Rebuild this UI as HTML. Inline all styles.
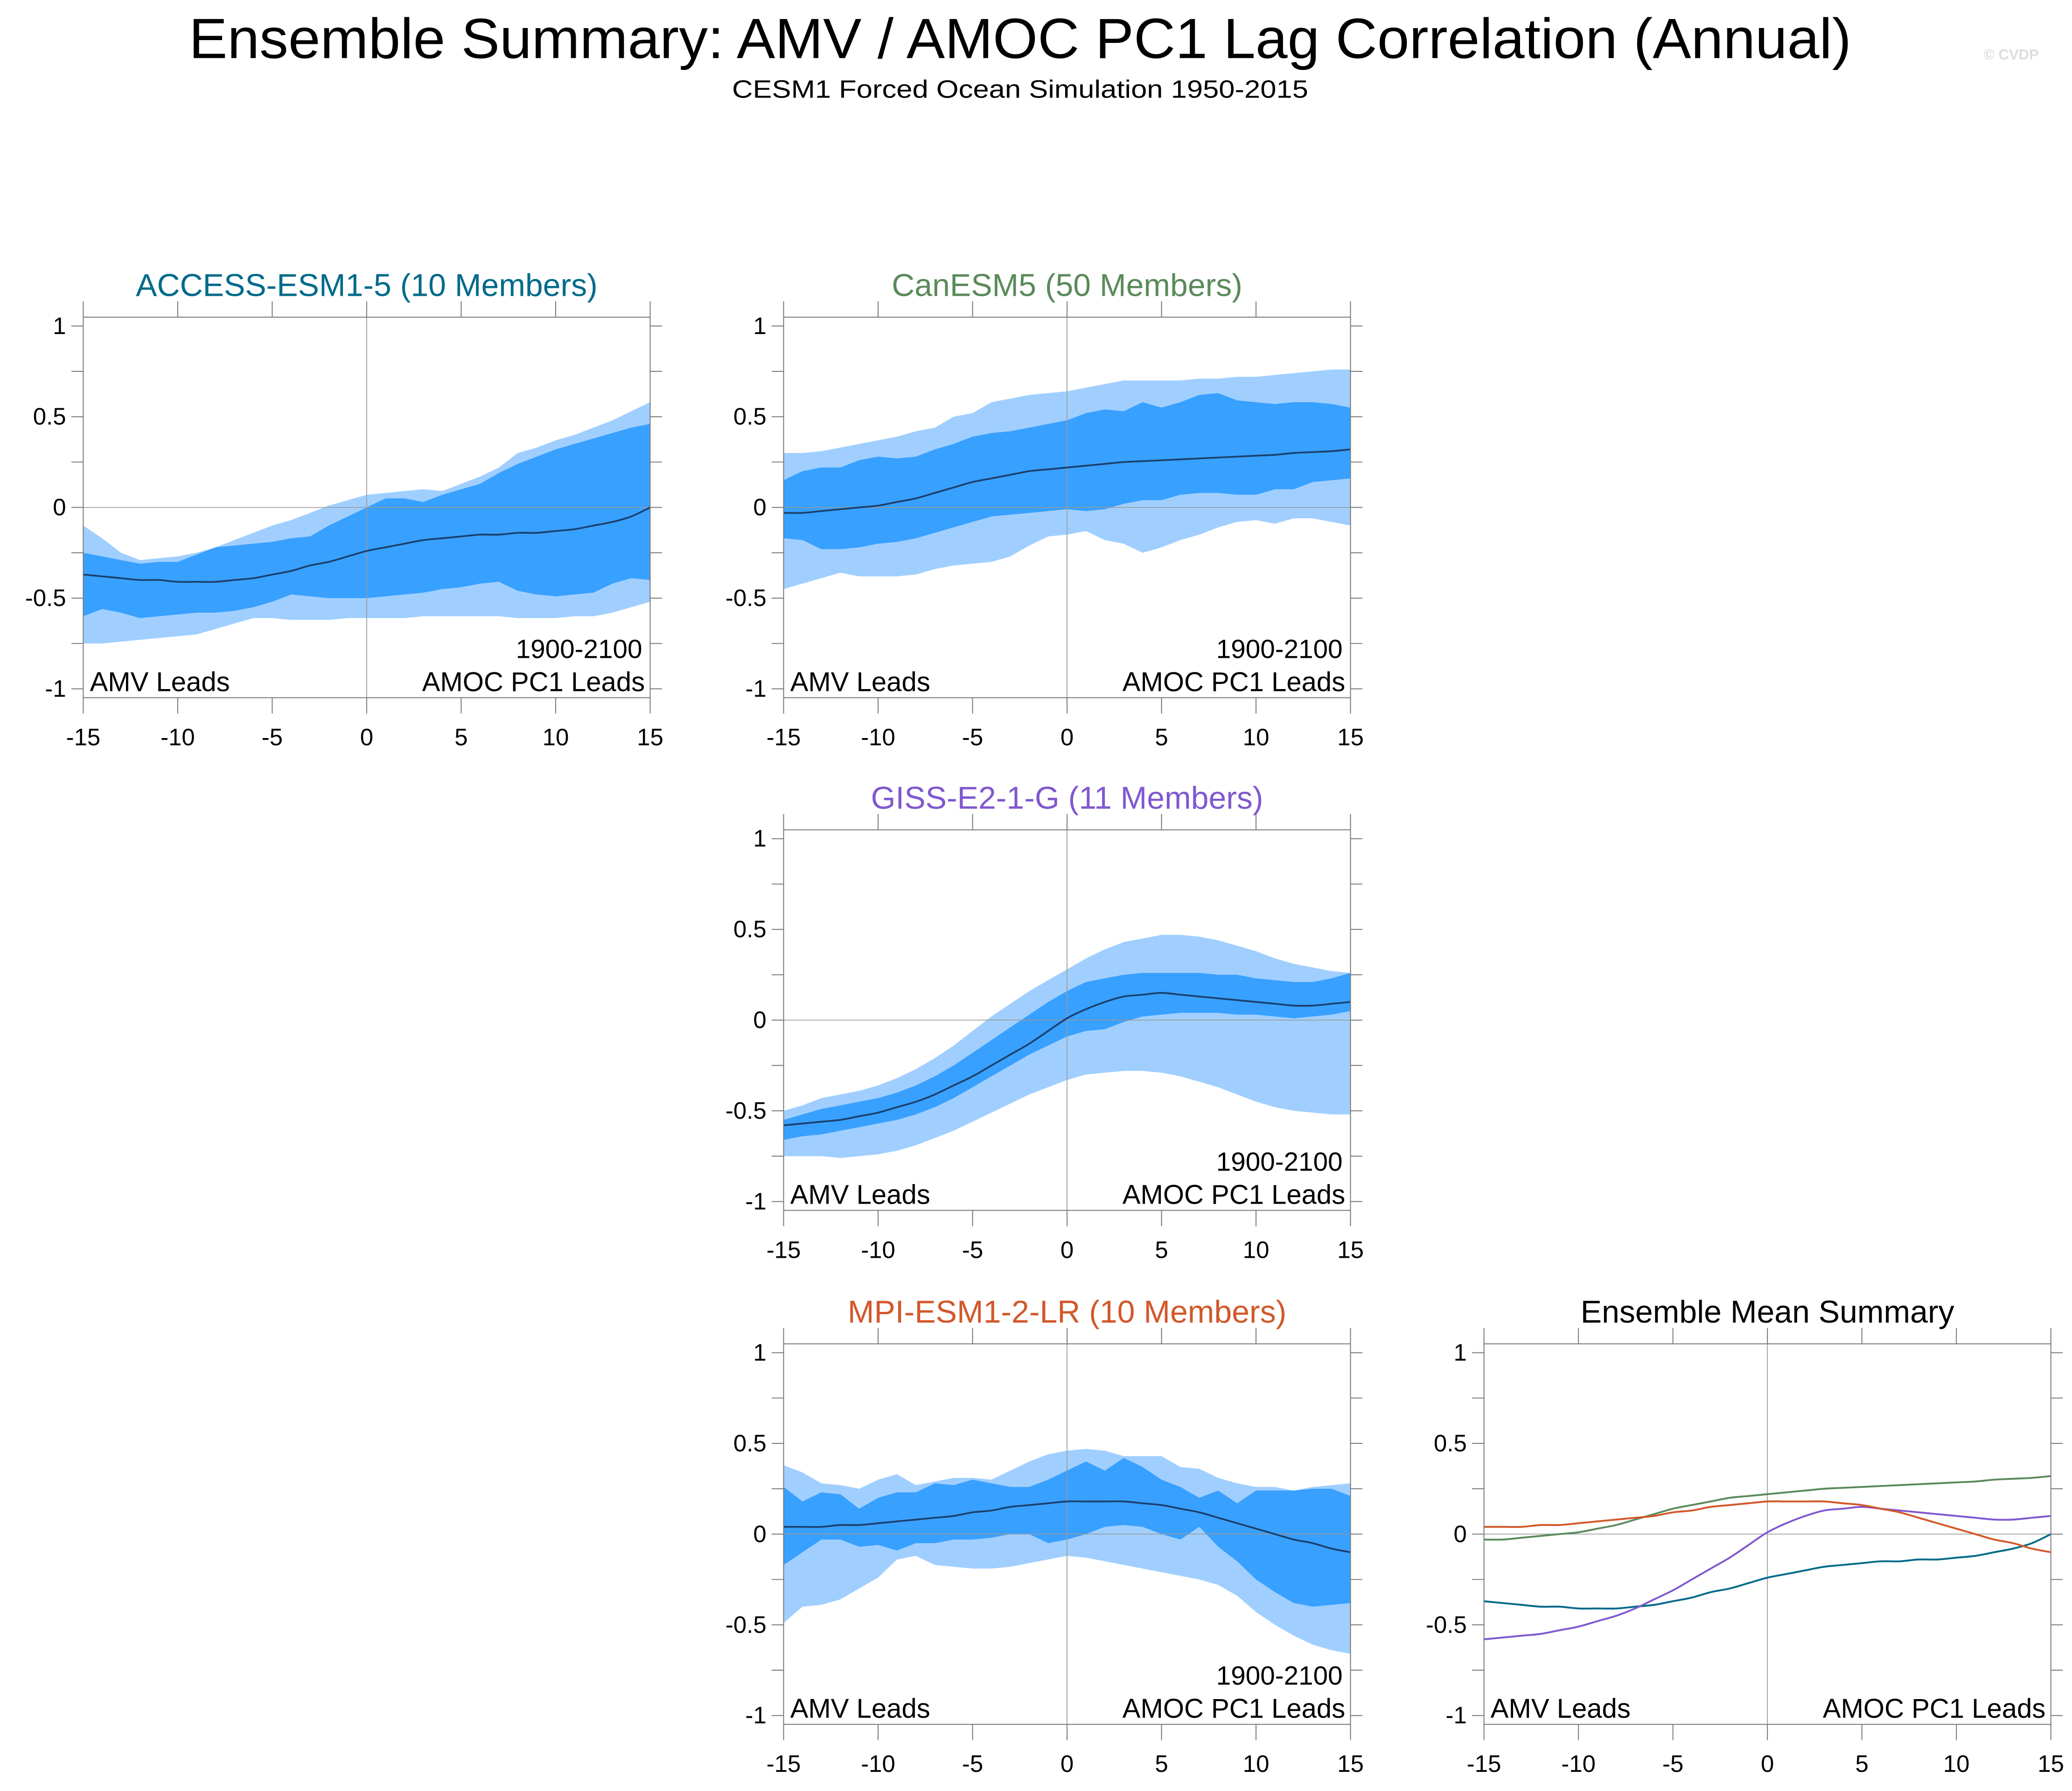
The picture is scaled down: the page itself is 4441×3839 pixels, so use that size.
<!DOCTYPE html>
<html><head><meta charset="utf-8"><style>html,body{margin:0;padding:0;background:#fff}svg{display:block}</style></head>
<body>
<svg id="chart" xmlns="http://www.w3.org/2000/svg" width="4441" height="3839" viewBox="0 0 1568 1355.4" font-family="'Liberation Sans', sans-serif">
<rect width="1568" height="1355.4" fill="#fff"/>
<text x="772" y="44" font-size="43" text-anchor="middle" fill="#000" textLength="1258" lengthAdjust="spacingAndGlyphs">Ensemble Summary: AMV / AMOC PC1 Lag Correlation (Annual)</text>
<text x="772" y="74" font-size="19" text-anchor="middle" fill="#000" textLength="436" lengthAdjust="spacingAndGlyphs">CESM1 Forced Ocean Simulation 1950-2015</text>
<text x="1522" y="45" font-size="11" font-weight="bold" text-anchor="middle" fill="#ddd">© CVDP</text>
</svg>
<script>
const lags = [];
for (let l = -15; l <= 15; l++) lags.push(l);
const xTicks = [-15,-10,-5,0,5,10,15];
const yTicks = [-1,-0.5,0,0.5,1];
const yTickLabels = ['-1','-0.5','0','0.5','1'];

const accessMean = [-0.37,-0.38,-0.39,-0.40,-0.40,-0.41,-0.41,-0.41,-0.40,-0.39,-0.37,-0.35,-0.32,-0.30,-0.27,-0.24,-0.22,-0.20,-0.18,-0.17,-0.16,-0.15,-0.15,-0.14,-0.14,-0.13,-0.12,-0.10,-0.08,-0.05,0.00];
const accessOuterMax = [-0.10,-0.17,-0.25,-0.29,-0.28,-0.27,-0.25,-0.22,-0.18,-0.14,-0.10,-0.07,-0.03,0.01,0.04,0.07,0.08,0.09,0.10,0.09,0.13,0.17,0.22,0.30,0.33,0.37,0.40,0.44,0.48,0.53,0.58];
const accessInnerMax = [-0.25,-0.27,-0.29,-0.31,-0.30,-0.30,-0.26,-0.22,-0.21,-0.20,-0.19,-0.17,-0.16,-0.10,-0.05,0.00,0.05,0.05,0.03,0.07,0.10,0.13,0.19,0.24,0.28,0.32,0.35,0.38,0.41,0.44,0.46];
const accessInnerMin = [-0.60,-0.56,-0.58,-0.61,-0.60,-0.59,-0.58,-0.58,-0.57,-0.55,-0.52,-0.48,-0.49,-0.50,-0.50,-0.50,-0.49,-0.48,-0.47,-0.45,-0.44,-0.42,-0.41,-0.46,-0.48,-0.49,-0.48,-0.47,-0.42,-0.39,-0.40];
const accessOuterMin = [-0.75,-0.75,-0.74,-0.73,-0.72,-0.71,-0.70,-0.67,-0.64,-0.61,-0.61,-0.62,-0.62,-0.62,-0.61,-0.61,-0.61,-0.61,-0.60,-0.60,-0.60,-0.60,-0.60,-0.61,-0.61,-0.61,-0.60,-0.60,-0.58,-0.55,-0.52];

const canMean = [-0.03,-0.03,-0.02,-0.01,0.00,0.01,0.03,0.05,0.08,0.11,0.14,0.16,0.18,0.20,0.21,0.22,0.23,0.24,0.25,0.255,0.26,0.265,0.27,0.275,0.28,0.285,0.29,0.30,0.305,0.31,0.32];
const canOuterMax = [0.30,0.30,0.31,0.33,0.35,0.37,0.39,0.42,0.44,0.50,0.52,0.58,0.60,0.62,0.63,0.64,0.66,0.68,0.70,0.70,0.70,0.70,0.71,0.71,0.72,0.72,0.73,0.74,0.75,0.76,0.76];
const canInnerMax = [0.15,0.20,0.22,0.22,0.26,0.28,0.27,0.28,0.32,0.35,0.39,0.41,0.42,0.44,0.46,0.48,0.52,0.54,0.53,0.58,0.55,0.58,0.62,0.63,0.59,0.58,0.57,0.58,0.58,0.57,0.55];
const canInnerMin = [-0.17,-0.18,-0.23,-0.23,-0.22,-0.20,-0.19,-0.17,-0.14,-0.11,-0.08,-0.05,-0.04,-0.03,-0.02,-0.01,-0.02,-0.01,0.02,0.04,0.04,0.07,0.08,0.08,0.07,0.07,0.10,0.10,0.14,0.15,0.16];
const canOuterMin = [-0.45,-0.42,-0.39,-0.36,-0.38,-0.38,-0.38,-0.37,-0.34,-0.32,-0.31,-0.30,-0.27,-0.21,-0.16,-0.15,-0.13,-0.18,-0.20,-0.25,-0.22,-0.18,-0.15,-0.11,-0.08,-0.07,-0.09,-0.06,-0.06,-0.08,-0.10];

const gissMean = [-0.58,-0.57,-0.56,-0.55,-0.53,-0.51,-0.48,-0.45,-0.41,-0.36,-0.31,-0.25,-0.19,-0.13,-0.06,0.01,0.06,0.10,0.13,0.14,0.15,0.14,0.13,0.12,0.11,0.10,0.09,0.08,0.08,0.09,0.10];
const gissOuterMax = [-0.50,-0.47,-0.43,-0.41,-0.39,-0.36,-0.32,-0.27,-0.21,-0.14,-0.06,0.02,0.09,0.16,0.22,0.28,0.34,0.39,0.43,0.45,0.47,0.47,0.46,0.44,0.41,0.38,0.34,0.31,0.29,0.27,0.26];
const gissInnerMax = [-0.55,-0.52,-0.49,-0.47,-0.45,-0.43,-0.40,-0.36,-0.31,-0.25,-0.18,-0.11,-0.04,0.03,0.10,0.16,0.21,0.23,0.25,0.26,0.26,0.26,0.26,0.25,0.25,0.23,0.22,0.21,0.21,0.23,0.26];
const gissInnerMin = [-0.66,-0.64,-0.63,-0.61,-0.59,-0.57,-0.55,-0.52,-0.48,-0.43,-0.37,-0.31,-0.25,-0.19,-0.14,-0.09,-0.06,-0.05,-0.01,0.02,0.03,0.04,0.04,0.04,0.03,0.03,0.02,0.01,0.02,0.03,0.05];
const gissOuterMin = [-0.75,-0.75,-0.75,-0.76,-0.75,-0.74,-0.72,-0.69,-0.65,-0.61,-0.56,-0.51,-0.46,-0.41,-0.37,-0.33,-0.30,-0.29,-0.28,-0.28,-0.29,-0.31,-0.34,-0.37,-0.41,-0.45,-0.48,-0.50,-0.51,-0.52,-0.52];

const mpiMean = [0.04,0.04,0.04,0.05,0.05,0.06,0.07,0.08,0.09,0.10,0.12,0.13,0.15,0.16,0.17,0.18,0.18,0.18,0.18,0.17,0.16,0.14,0.12,0.09,0.06,0.03,0.00,-0.03,-0.05,-0.08,-0.10];
const mpiOuterMax = [0.38,0.34,0.28,0.27,0.25,0.30,0.33,0.27,0.29,0.31,0.31,0.30,0.35,0.40,0.44,0.46,0.47,0.46,0.43,0.43,0.43,0.37,0.36,0.31,0.28,0.26,0.26,0.24,0.26,0.27,0.28];
const mpiInnerMax = [0.26,0.18,0.23,0.22,0.14,0.20,0.23,0.23,0.28,0.27,0.30,0.28,0.26,0.26,0.30,0.35,0.40,0.35,0.42,0.37,0.30,0.26,0.20,0.24,0.17,0.24,0.24,0.24,0.25,0.25,0.21];
const mpiInnerMin = [-0.17,-0.10,-0.03,-0.03,-0.07,-0.06,-0.09,-0.05,-0.05,-0.03,-0.03,-0.02,0.00,0.00,-0.05,-0.03,0.00,0.04,0.05,0.04,0.00,-0.03,0.04,-0.07,-0.15,-0.25,-0.32,-0.38,-0.40,-0.39,-0.38];
const mpiOuterMin = [-0.49,-0.40,-0.39,-0.36,-0.30,-0.24,-0.14,-0.12,-0.17,-0.18,-0.19,-0.19,-0.18,-0.16,-0.14,-0.12,-0.13,-0.15,-0.17,-0.19,-0.21,-0.23,-0.25,-0.28,-0.34,-0.43,-0.50,-0.56,-0.61,-0.64,-0.66];

const NS = 'http://www.w3.org/2000/svg';
const svg = document.getElementById('chart');
function mk(tag, attrs, parent) {
  const e = document.createElementNS(NS, tag);
  for (const k in attrs) e.setAttribute(k, attrs[k]);
  (parent || svg).appendChild(e);
  return e;
}
function smoothPath(pts) {
  let d = 'M' + pts[0][0].toFixed(2) + ',' + pts[0][1].toFixed(2);
  for (let i = 0; i < pts.length - 1; i++) {
    const p0 = pts[Math.max(0, i - 1)], p1 = pts[i], p2 = pts[i + 1], p3 = pts[Math.min(pts.length - 1, i + 2)];
    const c1 = [p1[0] + (p2[0] - p0[0]) / 6, p1[1] + (p2[1] - p0[1]) / 6];
    const c2 = [p2[0] - (p3[0] - p1[0]) / 6, p2[1] - (p3[1] - p1[1]) / 6];
    d += 'C' + c1[0].toFixed(2) + ',' + c1[1].toFixed(2) + ' ' + c2[0].toFixed(2) + ',' + c2[1].toFixed(2) + ' ' + p2[0].toFixed(2) + ',' + p2[1].toFixed(2);
  }
  return d;
}

function panel(x0, y0, title, color, name, bands, showYears) {
  const W = 429, unit = 137.3;
  const top = y0 - 144, bot = y0 + 144;
  const sx = l => x0 + (l + 15) / 30 * W;
  const sy = v => y0 - v * unit;
  const g = mk('g', {});
  
  
  const area = (hi, lo, fill, nm) => {
    let d = hi.map((v, i) => (i ? 'L' : 'M') + sx(lags[i]).toFixed(2) + ',' + sy(v).toFixed(2)).join('');
    for (let i = lo.length - 1; i >= 0; i--) d += 'L' + sx(lags[i]).toFixed(2) + ',' + sy(lo[i]).toFixed(2);
    const p = mk('path', {d: d + 'Z', fill: fill}, g);
    
    
  };
  const line = (vals, stroke, w, nm) => {
    const pts = vals.map((v, i) => [sx(lags[i]), sy(v)]);
    const p = mk('path', {d: smoothPath(pts), fill: 'none', stroke: stroke, 'stroke-width': w}, g);
    
    
  };
  if (bands && bands.outerMax) {
    area(bands.outerMax, bands.outerMin, '#a0cfff', name + '-outer-band');
    area(bands.innerMax, bands.innerMin, '#38a0ff', name + '-inner-band');
  }
  mk('line', {x1: sx(0), x2: sx(0), y1: top, y2: bot, stroke: '#999', 'stroke-width': 0.6}, g);
  mk('line', {x1: x0, x2: x0 + W, y1: sy(0), y2: sy(0), stroke: '#999', 'stroke-width': 0.6}, g);
  if (bands && bands.mean) line(bands.mean, '#1a3f6b', 1.3, name + '-mean-line');
  if (bands && bands.lines) bands.lines.forEach(s => line(s.vals, s.color, 1.4, s.name));
  mk('rect', {x: x0, y: top, width: W, height: bot - top, fill: 'none', stroke: '#777', 'stroke-width': 0.7}, g);
  for (let v = -1; v <= 1.001; v += 0.25) {
    const L = 9;
    mk('line', {x1: x0 - L, x2: x0, y1: sy(v), y2: sy(v), stroke: '#777', 'stroke-width': 0.7}, g);
    mk('line', {x1: x0 + W, x2: x0 + W + L, y1: sy(v), y2: sy(v), stroke: '#777', 'stroke-width': 0.7}, g);
  }
  xTicks.forEach(l => {
    mk('line', {x1: sx(l), x2: sx(l), y1: bot, y2: bot + 12, stroke: '#777', 'stroke-width': 0.7}, g);
    mk('line', {x1: sx(l), x2: sx(l), y1: top - 12, y2: top, stroke: '#777', 'stroke-width': 0.7}, g);
  });
  yTicks.forEach((v, i) => {
    const t = mk('text', {x: x0 - 13, y: sy(v) + 6, 'font-size': 18, 'text-anchor': 'end', fill: '#000'}, g);
    t.textContent = yTickLabels[i];
    
    
  });
  xTicks.forEach(l => {
    const t = mk('text', {x: sx(l), y: bot + 36, 'font-size': 18, 'text-anchor': 'middle', fill: '#000'}, g);
    t.textContent = String(l);
    
    
  });
  const tt = mk('text', {x: x0 + W / 2, y: top - 16, 'font-size': 24, 'text-anchor': 'middle', fill: color}, g);
  tt.textContent = title;
  
  
  const a = mk('text', {x: x0 + 5, y: bot - 5, 'font-size': 20.5, fill: '#000'}, g);
  a.textContent = 'AMV Leads';
  
  
  const b = mk('text', {x: x0 + W - 4, y: bot - 5, 'font-size': 20.5, 'text-anchor': 'end', fill: '#000'}, g);
  b.textContent = 'AMOC PC1 Leads';
  
  
  if (showYears) {
    const c = mk('text', {x: x0 + W - 6, y: bot - 30, 'font-size': 20, 'text-anchor': 'end', fill: '#000'}, g);
    c.textContent = '1900-2100';
    
    
  }
}

const cAccess = '#006a8a', cCan = '#5a8a5a', cGiss = '#8058d0', cMpi = '#d2582a';
panel(63, 384, 'ACCESS-ESM1-5 (10 Members)', cAccess, 'access', {mean: accessMean, outerMax: accessOuterMax, outerMin: accessOuterMin, innerMax: accessInnerMax, innerMin: accessInnerMin}, true);
panel(593, 384, 'CanESM5 (50 Members)', cCan, 'canesm5', {mean: canMean, outerMax: canOuterMax, outerMin: canOuterMin, innerMax: canInnerMax, innerMin: canInnerMin}, true);
panel(593, 772, 'GISS-E2-1-G (11 Members)', cGiss, 'giss', {mean: gissMean, outerMax: gissOuterMax, outerMin: gissOuterMin, innerMax: gissInnerMax, innerMin: gissInnerMin}, true);
panel(593, 1161, 'MPI-ESM1-2-LR (10 Members)', cMpi, 'mpi', {mean: mpiMean, outerMax: mpiOuterMax, outerMin: mpiOuterMin, innerMax: mpiInnerMax, innerMin: mpiInnerMin}, true);
panel(1123, 1161, 'Ensemble Mean Summary', '#000', 'summary', {lines: [
  {vals: accessMean, color: cAccess, name: 'summary-access-line'},
  {vals: canMean, color: cCan, name: 'summary-canesm5-line'},
  {vals: gissMean, color: cGiss, name: 'summary-giss-line'},
  {vals: mpiMean, color: cMpi, name: 'summary-mpi-line'}
]}, false);
</script>
</body></html>
